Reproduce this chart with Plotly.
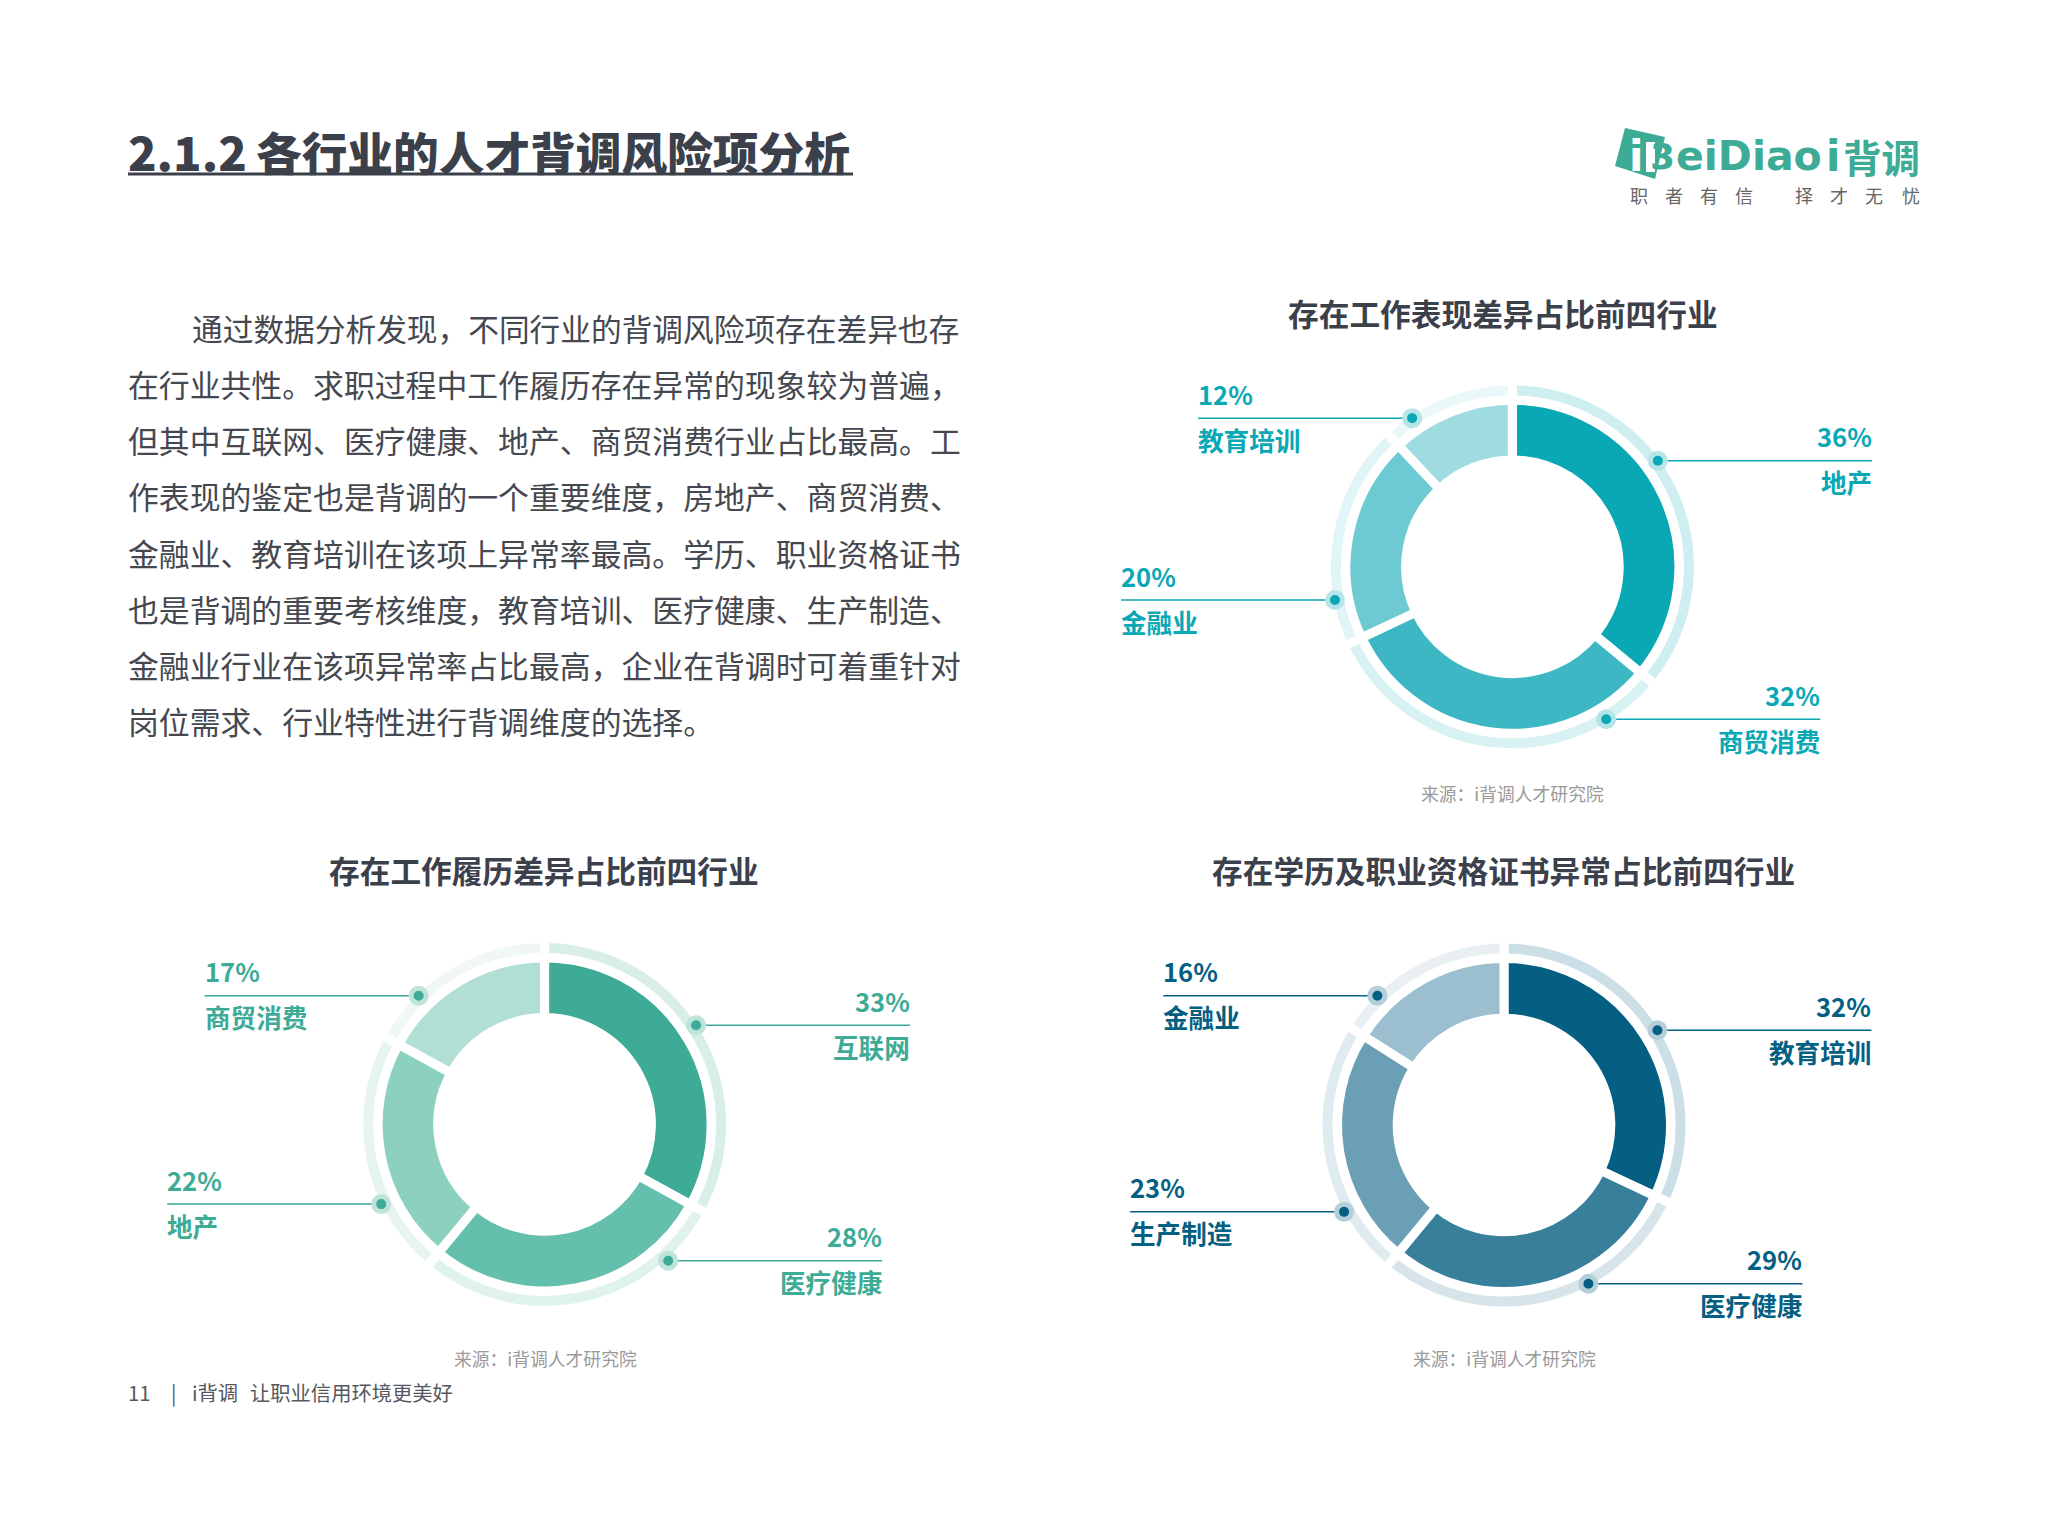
# Rebuild of the report page: intro text plus three donut charts
import math
import plotly.graph_objects as go

## Data
work_names = ["地产", "商贸消费", "金融业", "教育培训"]
work_values = [36, 32, 20, 12]
history_names = ["互联网", "医疗健康", "地产", "商贸消费"]
history_values = [33, 28, 22, 17]
cert_names = ["教育培训", "医疗健康", "生产制造", "金融业"]
cert_values = [32, 29, 23, 16]

work_title = "存在工作表现差异占比前四行业"
history_title = "存在工作履历差异占比前四行业"
cert_title = "存在学历及职业资格证书异常占比前四行业"
source_text = "来源：i背调人才研究院"

page_number = "2.1.2"
page_title = "各行业的人才背调风险项分析"
body_lines = [
    "通过数据分析发现，不同行业的背调风险项存在差异也存",
    "在行业共性。求职过程中工作履历存在异常的现象较为普遍，",
    "但其中互联网、医疗健康、地产、商贸消费行业占比最高。工",
    "作表现的鉴定也是背调的一个重要维度，房地产、商贸消费、",
    "金融业、教育培训在该项上异常率最高。学历、职业资格证书",
    "也是背调的重要考核维度，教育培训、医疗健康、生产制造、",
    "金融业行业在该项异常率占比最高，企业在背调时可着重针对",
    "岗位需求、行业特性进行背调维度的选择。",
]

## Styles and page geometry (pixels)
W, H = 2048, 1536
BODY_MARGIN = 8  # the browser's default body margin
FONT = "Noto Sans CJK SC"
DARK = "#3b404b"
R_OUT, R_IN = 162, 111.3
RING_OUT, RING_IN = 181.5, 171.5
GAP = 9
LEADER = 214

work_colors = ["#0AA8B4", "#3CB7C3", "#6DCAD2", "#9EDCE1"]
work_ring = ["#CEEEF0", "#D8F1F3", "#E2F5F6", "#EAF8F9"]
history_colors = ["#3DAB95", "#64BFAD", "#8CD0C0", "#B2DFD5"]
history_ring = ["#D9EEE9", "#E0F2EE", "#E7F4F1", "#F0F8F6"]
cert_colors = ["#055F82", "#377F9B", "#6A9FB5", "#9BBFCE"]
cert_ring = ["#CDDFE6", "#D7E5EB", "#E0EBF0", "#E8F0F3"]

# centre, title and source label positions; callout dots as angle clockwise from 12 o'clock and radius
panels = [
    dict(names=work_names, values=work_values, colors=work_colors, ring=work_ring, halo="#B5E5E9",
         title=work_title, cx=1512.4, cy=566.8, tx=1503, ty=312.8, sx=1512.5, sy=793,
         angles=[53.9, 148.4, 259.4, 326], radii=[180, 179, 180.5, 179.3]),
    dict(names=history_names, values=history_values, colors=history_colors, ring=history_ring, halo="#BDE3DA",
         title=history_title, cx=544.6, cy=1124.4, tx=543.5, ty=869.5, sx=545.5, sy=1358,
         angles=[56.8, 137.8, 244, 315.6], radii=[181, 184, 181.8, 180]),
    dict(names=cert_names, values=cert_values, colors=cert_colors, ring=cert_ring, halo="#B4CFDA",
         title=cert_title, cx=1504, cy=1125, tx=1503, ty=869.5, sx=1504, sy=1358,
         angles=[58.3, 152, 241.5, 315.6], radii=[180.3, 179.8, 182, 181]),
]

fig = go.Figure()
shapes = []
notes = []


def note(x, y, text, size, color, anchor="left", bold=False, family=FONT, weight=None):
    if bold:
        text = f"<b>{text}</b>"
    font = dict(family=family, size=size, color=color)
    if weight:
        font["weight"] = weight
    notes.append(dict(x=x, y=y, xref="x", yref="y", text=text, showarrow=False, xanchor=anchor,
                      yanchor="middle", font=font, borderpad=0, borderwidth=0))


def add_pie(p, colors, r_out, r_in):
    # white slice border cuts the gaps, so the pie is drawn half a stroke larger
    r = r_out + GAP / 2
    fw, fh = W - 2 * BODY_MARGIN, H - 2 * BODY_MARGIN
    cx, cy = p["cx"] - BODY_MARGIN, p["cy"] - BODY_MARGIN
    fig.add_trace(go.Pie(
        labels=p["names"], values=p["values"], sort=False, direction="clockwise", rotation=0,
        hole=(r_in - GAP / 2) / r, textinfo="none", showlegend=False, hoverinfo="label+percent",
        marker=dict(colors=colors, line=dict(color="white", width=GAP)),
        domain=dict(x=[(cx - r) / fw, (cx + r) / fw], y=[1 - (cy + r) / fh, 1 - (cy - r) / fh]),
    ))


## Donuts and their callouts
for p in panels:
    add_pie(p, p["ring"], RING_OUT, RING_IN)
    add_pie(p, p["colors"], R_OUT, R_IN)
    note(p["tx"], p["ty"], p["title"], 30.7, DARK, "center", True)
    note(p["sx"], p["sy"], source_text, 17.8, "#9a9a9a", "center")
    main = p["colors"][0]
    for name, val, ang, rad in zip(p["names"], p["values"], p["angles"], p["radii"]):
        dx = rad * math.sin(math.radians(ang))
        dy = -rad * math.cos(math.radians(ang))
        x0, y0 = p["cx"] + dx, p["cy"] + dy
        side = 1 if dx > 0 else -1
        x1 = x0 + side * LEADER
        shapes.append(dict(type="line", xref="x", yref="y", x0=x0, x1=x1, y0=y0, y1=y0,
                           line=dict(color=main, width=1.5), layer="above"))
        shapes.append(dict(type="circle", xref="x", yref="y", x0=x0 - 10, x1=x0 + 10, y0=y0 - 10, y1=y0 + 10,
                           fillcolor=p["halo"], line=dict(width=0), layer="above"))
        shapes.append(dict(type="circle", xref="x", yref="y", x0=x0 - 5, x1=x0 + 5, y0=y0 - 5, y1=y0 + 5,
                           fillcolor=main, line=dict(width=0), layer="above"))
        anchor = "right" if side > 0 else "left"
        note(x1, y0 - 25, f"{val}%", 25.6, main, anchor, True)
        note(x1, y0 + 21, name, 25.6, main, anchor, True)

## Page heading
note(128, 150.5, page_number, 47, DARK, weight=900)
note(256, 150.5, page_title, 45.7, DARK, weight=900)
shapes.append(dict(type="line", xref="x", yref="y", x0=128, x1=853, y0=174, y1=174,
                   line=dict(color=DARK, width=3)))

## Body text
body_y = [327, 383, 439.5, 495.5, 552, 608, 664.5, 720.5]
for i, (line, y) in enumerate(zip(body_lines, body_y)):
    # the first line is indented and set a touch tighter in the source
    note(192 if i == 0 else 128, y, line, 30.7 if i == 0 else 30.85, "#45484f")

## Footer
note(128, 1392, "11", 20.3, "#55585e")
note(171, 1392, "|", 20.3, "#55585e")
note(192, 1392, "i背调", 20.3, "#55585e")
note(249.5, 1392, "让职业信用环境更美好", 20.3, "#55585e")

## Logo
LOGO = "#3DAB95"
LOGO_FONT = "DejaVu Sans"
shapes.append(dict(type="path", xref="x", yref="y", path="M 1625 128 L 1665 137 L 1655 179 L 1615 166 Z",
                   fillcolor=LOGO, line=dict(width=0), layer="above"))
shapes.append(dict(type="rect", xref="x", yref="y", x0=1646, x1=1655, y0=142, y1=172,
                   fillcolor="white", line=dict(width=0), layer="above"))
note(1635.5, 156, "i", 42, "white", "center", True, LOGO_FONT)
note(1662.5, 156, "3", 36, LOGO, "center", True, LOGO_FONT)
note(1675.5, 156, "eiDiao", 41, LOGO, "left", True, LOGO_FONT)
note(1826, 156, "i", 42, LOGO, "left", True, LOGO_FONT)
note(1843, 156, "背调", 38.5, LOGO, "left", True)
tag_chars = "职者有信择才无忧"
tag_x = [1639, 1674, 1709, 1744, 1804, 1839, 1874, 1911]
for ch, x in zip(tag_chars, tag_x):
    note(x, 195, ch, 18, "#666666", "center")

fig.update_layout(
    width=W - 2 * BODY_MARGIN, height=H - 2 * BODY_MARGIN, margin=dict(l=0, r=0, t=0, b=0),
    paper_bgcolor="white", plot_bgcolor="white",
    xaxis=dict(range=[BODY_MARGIN, W - BODY_MARGIN], visible=False, fixedrange=True),
    yaxis=dict(range=[H - BODY_MARGIN, BODY_MARGIN], visible=False, fixedrange=True),
    shapes=shapes, annotations=notes, showlegend=False,
)
# invisible anchor so the pixel axes exist
fig.add_trace(go.Scatter(x=[BODY_MARGIN, W - BODY_MARGIN], y=[BODY_MARGIN, H - BODY_MARGIN], mode="markers",
                         marker=dict(opacity=0), hoverinfo="skip", showlegend=False))

fig.write_html("out.html")
